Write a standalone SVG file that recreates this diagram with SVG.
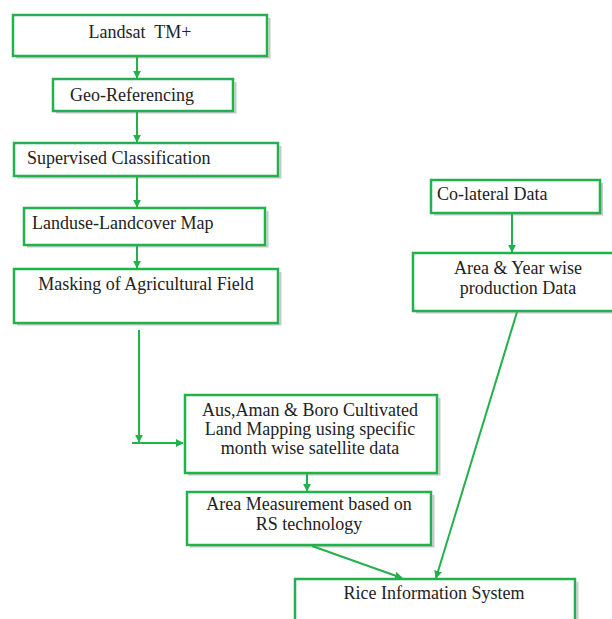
<svg xmlns="http://www.w3.org/2000/svg" width="612" height="619" viewBox="0 0 612 619">
<defs>
<style>
.box{fill:#fff;stroke:#22b14c;stroke-width:2.5}
.sh{fill:none;stroke:#c8c8c8;stroke-width:2}
.ln{fill:none;stroke:#22b14c;stroke-width:2}
.t{font-family:'Liberation Serif';font-size:18px;fill:#222}
.c{text-anchor:middle}
</style>
<marker id="ah" viewBox="0 0 10 10" refX="9" refY="5" markerWidth="4" markerHeight="4" orient="auto" markerUnits="strokeWidth">
<path d="M0,0 L10,5 L0,10 z" fill="#22b14c"/>
</marker>
</defs>
<rect width="612" height="619" fill="#fff"/>
<g id="landsat">
<polyline class="sh" points="16,57.5 269.5,57.5 269.5,18"/>
<rect class="box" x="13" y="15" width="254" height="41"/>
<text class="t c" x="140" y="38" xml:space="preserve">Landsat  TM+</text>
</g>
<g id="georef">
<polyline class="sh" points="56,112.5 235.5,112.5 235.5,82"/>
<rect class="box" x="53" y="79" width="180" height="32"/>
<text class="t" x="70" y="101">Geo-Referencing</text>
</g>
<g id="supervised">
<polyline class="sh" points="17,177.5 280.5,177.5 280.5,146"/>
<rect class="box" x="14" y="143" width="264" height="33"/>
<text class="t" x="27" y="164">Supervised Classification</text>
</g>
<g id="landuse">
<polyline class="sh" points="27,246.5 267.5,246.5 267.5,211"/>
<rect class="box" x="24" y="208" width="241" height="37"/>
<text class="t" x="32" y="229">Landuse-Landcover Map</text>
</g>
<g id="masking">
<polyline class="sh" points="17,324.5 280.5,324.5 280.5,272"/>
<rect class="box" x="14" y="269" width="264" height="54"/>
<text class="t c" x="146" y="290">Masking of Agricultural Field</text>
</g>
<g id="ausaman">
<polyline class="sh" points="188,474.5 439.5,474.5 439.5,398"/>
<rect class="box" x="185" y="395" width="252" height="78"/>
<text class="t c" x="310" y="416">Aus,Aman &amp; Boro Cultivated</text>
<text class="t c" x="310" y="435">Land Mapping using specific</text>
<text class="t c" x="310" y="454">month wise satellite data</text>
</g>
<g id="areameas">
<polyline class="sh" points="190,546.5 433.5,546.5 433.5,495"/>
<rect class="box" x="187" y="492" width="244" height="53"/>
<text class="t c" x="309" y="510">Area Measurement based on</text>
<text class="t c" x="309" y="530">RS technology</text>
</g>
<g id="rice">
<polyline class="sh" points="577.5,582 577.5,619"/>
<rect class="box" x="295" y="579" width="280" height="50"/>
<text class="t c" x="434" y="599">Rice Information System</text>
</g>
<g id="colateral">
<polyline class="sh" points="434,214.5 602,214.5 602,183"/>
<rect class="box" x="431" y="180" width="169" height="33"/>
<text class="t" x="437" y="200">Co-lateral Data</text>
</g>
<g id="areayear">
<polyline class="sh" points="416,312.5 612,312.5"/>
<rect class="box" x="413" y="253" width="210" height="58"/>
<text class="t c" x="518" y="274">Area &amp; Year wise</text>
<text class="t c" x="518" y="294">production Data</text>
</g>
<g id="connectors">
<line class="ln" x1="137" y1="56" x2="137" y2="78" marker-end="url(#ah)"/>
<line class="ln" x1="137" y1="111" x2="137" y2="142" marker-end="url(#ah)"/>
<line class="ln" x1="137" y1="176" x2="137" y2="207" marker-end="url(#ah)"/>
<line class="ln" x1="137" y1="245" x2="137" y2="268" marker-end="url(#ah)"/>
<line class="ln" x1="139" y1="330" x2="139" y2="442" marker-end="url(#ah)"/>
<line class="ln" x1="132" y1="443" x2="183" y2="443" marker-end="url(#ah)"/>
<line class="ln" x1="307" y1="473" x2="307" y2="491" marker-end="url(#ah)"/>
<line class="ln" x1="312" y1="546" x2="402" y2="578" marker-end="url(#ah)"/>
<line class="ln" x1="512" y1="213" x2="512" y2="252" marker-end="url(#ah)"/>
<line class="ln" x1="517" y1="312" x2="436" y2="578" marker-end="url(#ah)"/>
</g>
</svg>
